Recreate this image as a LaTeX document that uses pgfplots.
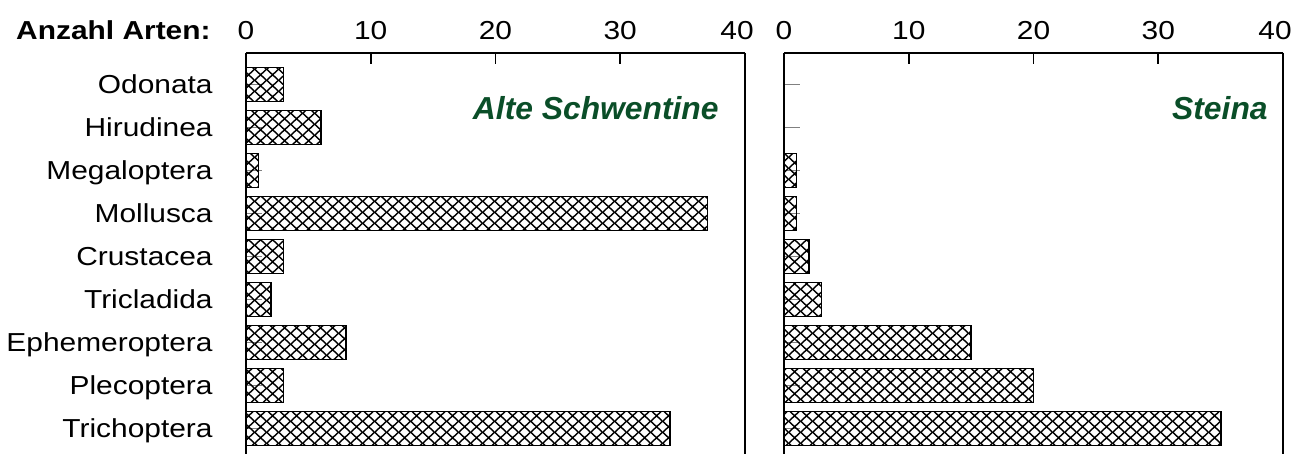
\documentclass[border=0pt]{standalone}
\usepackage{pgfplots}
\pgfplotsset{compat=1.18}
\usetikzlibrary{patterns.meta}
\usepackage{fontspec}
\setmainfont[FakeStretch=1.15]{Liberation Sans}
\newfontfamily\titlefont{Liberation Sans}
\definecolor{titlegreen}{RGB}{10,78,40}
\newcommand{\lbl}{\fontsize{13pt}{15.5pt}\selectfont}
\newcommand{\ttl}{\titlefont\fontsize{15.9pt}{18pt}\selectfont\bfseries\itshape}

% cross hatch, diamonds about 12px wide
\tikzdeclarepattern{
  name=xhatch, type=uncolored,
  bounding box={(0,0) and (5.8pt,5.6pt)},
  tile size={(5.8pt,5.6pt)},
  code={
    \draw[line width=0.75pt] (-0.58pt,-0.56pt) -- (6.38pt,6.16pt)
                             (-0.58pt,6.16pt) -- (6.38pt,-0.56pt);
  }
}

\pgfplotsset{
  panel/.style={
    scale only axis, width=249.5pt, height=200.65pt,
    xmin=0, xmax=40, ymin=0.41, ymax=9.744,
    clip=false,
    axis x line=top, axis y line=box,
    axis line style={-, line width=1pt, black},
    x axis line style={-}, y axis line style={-},
    tick align=inside,
    xtick={0,10,20,30,40},
    xticklabels={0,10,20,30,\hspace*{-8pt}40},
    xtick style={black, line width=0.8pt, /pgfplots/major tick length=5.5pt},
    ytick={1,...,9}, ytick pos=left,
    ytick style={gray, line width=0.5pt, /pgfplots/major tick length=8pt},
    xticklabel style={anchor=base, yshift=6.75pt, font=\lbl},
    yticklabel style={anchor=base east, inner sep=0pt, xshift=-16.5pt, yshift=-4.65pt, font=\lbl},
  },
  hbar/.style={xbar, bar width=0.79, draw=black, line width=0.9pt,
    pattern=xhatch, pattern color=black, mark=none},
}

\begin{document}
\begin{tikzpicture}

\begin{axis}[panel, name=left,
    yticklabels={Trichoptera,Plecoptera,Ephemeroptera,Tricladida,Crustacea,Mollusca,Megaloptera,Hirudinea,Odonata}]
    \addplot[hbar] coordinates {
        (34,1) (3,2) (8,3) (2,4) (3,5) (37,6) (1,7) (6,8) (3,9)
    };
    \node[anchor=base east, inner sep=0pt, font=\lbl\bfseries]
        at ([shift={(-17.5pt,6.75pt)}]rel axis cs:0,1) {Anzahl Arten:};
    \node[anchor=base east, inner sep=0pt, text=titlegreen, font=\ttl]
        at ([shift={(-13pt,-33.65pt)}]rel axis cs:1,1) {Alte Schwentine};
\end{axis}

\begin{axis}[panel, name=right, at={(left.north east)}, anchor=north west, xshift=19.5pt,
    yticklabels={}]
    \addplot[hbar] coordinates {
        (35,1) (20,2) (15,3) (3,4) (2,5) (1,6) (1,7) (0,8) (0,9)
    };
    \node[anchor=base east, inner sep=0pt, text=titlegreen, font=\ttl]
        at ([shift={(-7.5pt,-33.65pt)}]rel axis cs:1,1) {Steina};
\end{axis}

\pgfresetboundingbox
\useasboundingbox ([xshift=-123pt]left.south west) rectangle ([shift={(5.5pt,26.3pt)}]right.north east);
\end{tikzpicture}
\end{document}
